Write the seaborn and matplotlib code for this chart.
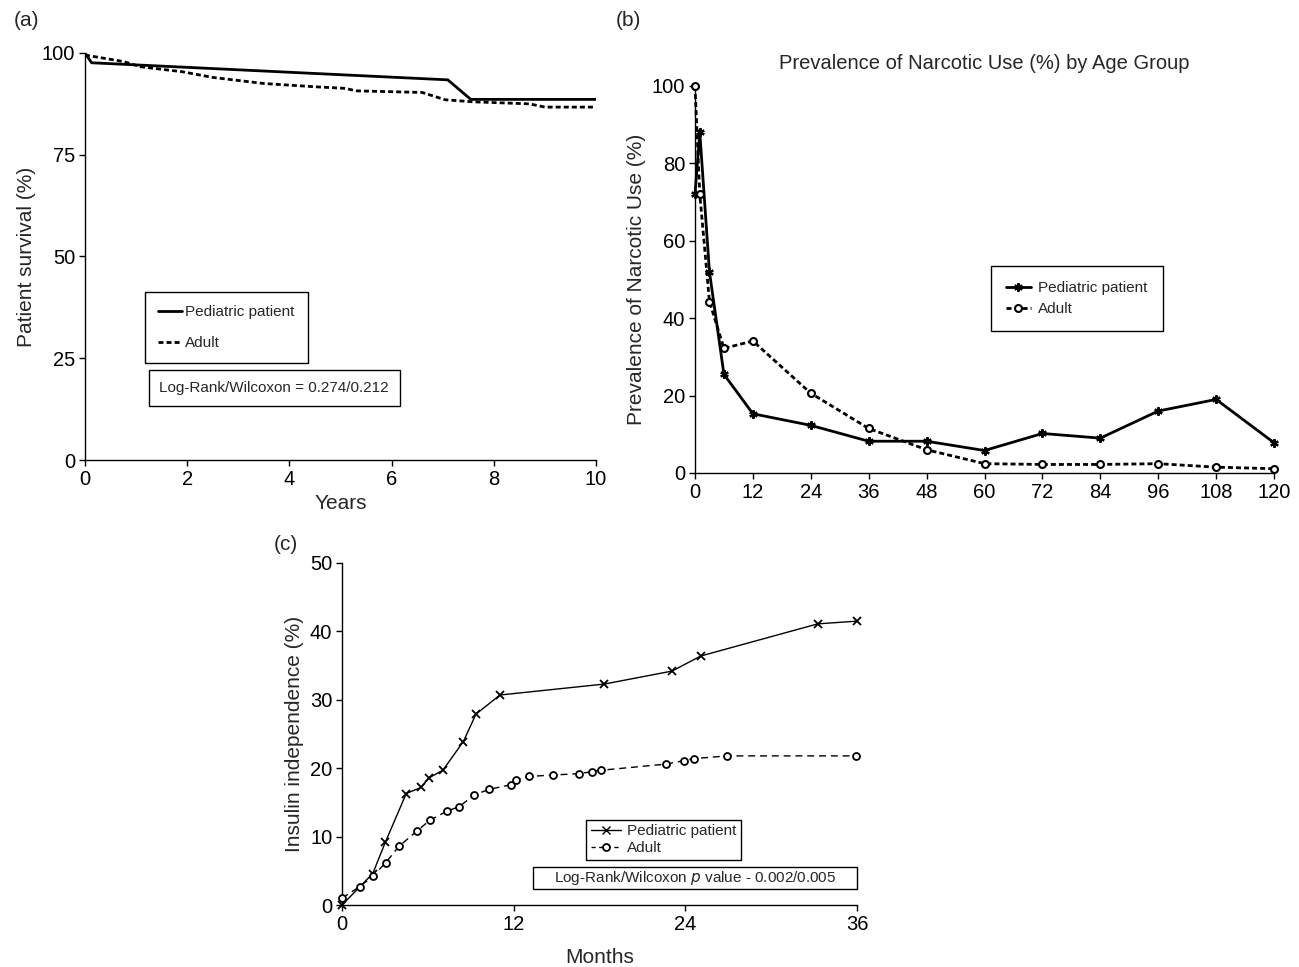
import numpy as np
import pandas as pd
import seaborn as sns
import matplotlib.pyplot as plt
from matplotlib.lines import Line2D
from matplotlib.patches import Rectangle

# panel (a): patient survival
a_years_ped = [0, 0.13, 7.1, 7.55, 10]
a_surv_ped = [100, 97.6, 93.4, 88.6, 88.6]
a_years_adult = [0, 0.75, 1.1, 1.9, 2.5, 3.5, 4.5, 5.1, 5.3, 6.6, 7.05, 7.6, 8.7, 9.0, 10]
a_surv_adult = [99.5, 97.9, 96.6, 95.4, 94.0, 92.5, 91.7, 91.3, 90.7, 90.3, 88.5, 88.0, 87.5, 86.7, 86.7]

# panel (b): narcotic use
b_months = [0, 1, 3, 6, 12, 24, 36, 48, 60, 72, 84, 96, 108, 120]
b_ped = [72, 88, 52, 25.5, 15.3, 12.3, 8.2, 8.2, 5.8, 10.2, 9.0, 16.0, 19.0, 7.8]
b_adult = [100, 72, 44.3, 32.2, 34.1, 20.6, 11.5, 6.0, 2.4, 2.2, 2.2, 2.4, 1.5, 1.1]

# panel (c): insulin independence
c_months_ped = [0, 2.15, 3.03, 4.49, 5.53, 6.08, 7.05, 8.48, 9.36, 11.04, 18.33, 23.07, 25.07, 33.25, 36]
c_ped = [0, 4.6, 9.2, 16.3, 17.2, 18.6, 19.7, 23.9, 27.9, 30.7, 32.3, 34.2, 36.4, 41.1, 41.5]
c_months_adult = [0, 1.24, 2.15, 3.06, 3.99, 5.23, 6.14, 7.32, 8.2, 9.25, 10.27, 11.84, 12.19,
                  13.1, 14.73, 16.54, 17.5, 18.11, 22.65, 23.89, 24.58, 26.92, 35.9]
c_adult = [1.0, 2.7, 4.2, 6.2, 8.6, 10.8, 12.4, 13.7, 14.4, 16.1, 16.9, 17.6, 18.3,
           18.8, 19.0, 19.2, 19.5, 19.7, 20.6, 21.1, 21.4, 21.8, 21.8]

sns.set_style("ticks")
plt.rcParams['font.family'] = ['Liberation Sans', 'DejaVu Sans']
plt.rcParams['xtick.labelsize'] = 14.5
plt.rcParams['ytick.labelsize'] = 14.5
plt.rcParams['axes.labelsize'] = 15
plt.rcParams['axes.edgecolor'] = 'black'
plt.rcParams['xtick.color'] = 'black'
plt.rcParams['ytick.color'] = 'black'
plt.rcParams['axes.linewidth'] = 1.0
plt.rcParams['xtick.major.size'] = 4
plt.rcParams['ytick.major.size'] = 4

fig = plt.figure(figsize=(12.99, 9.67), dpi=100)
ax_a = fig.add_axes([0.0654, 0.5243, 0.3934, 0.4209])
ax_b = fig.add_axes([0.5350, 0.5109, 0.4458, 0.4002])
ax_c = fig.add_axes([0.2633, 0.0641, 0.3965, 0.3537])

dash = (0, (1.8, 1.1))

# ---- (a)
sns.lineplot(x=a_years_ped, y=a_surv_ped, ax=ax_a, color='black', linewidth=2.0)
sns.lineplot(x=a_years_adult, y=a_surv_adult, ax=ax_a, color='black', linewidth=2.0,
             linestyle=dash)
ax_a.set_xlim(0, 10)
ax_a.set_ylim(0, 100)
ax_a.set_xticks([0, 2, 4, 6, 8, 10])
ax_a.set_yticks([0, 25, 50, 75, 100])
ax_a.set_xlabel("Years")
ax_a.set_ylabel("Patient survival (%)")
h_a = [Line2D([], [], color='black', lw=2.0),
       Line2D([], [], color='black', lw=2.0, linestyle=dash)]
leg = ax_a.legend(h_a, ["Pediatric patient", "Adult"], loc='upper left',
                  bbox_to_anchor=(0.117, 0.413), borderaxespad=0, fontsize=11,
                  fancybox=False, edgecolor='black', handlelength=1.6,
                  handletextpad=0.2, labelspacing=1.15, borderpad=0.85, framealpha=1)
leg.get_frame().set_linewidth(1.0)
ax_a.text(0.370, 0.177, "Log-Rank/Wilcoxon = 0.274/0.212", transform=ax_a.transAxes,
          ha='center', va='center', fontsize=11, bbox=dict(boxstyle='square,pad=0.7',
          facecolor='white', edgecolor='black', linewidth=1.0))

# ---- (b)
star = (6, 2, 0)
sns.lineplot(x=b_months, y=b_ped, ax=ax_b, color='black', linewidth=2.0,
             marker=star, markersize=6, markeredgecolor='black', markeredgewidth=1.6,
             clip_on=False, zorder=3)
sns.lineplot(x=b_months, y=b_adult, ax=ax_b, color='black', linewidth=2.0,
             linestyle=dash, marker='o', markersize=5,
             markerfacecolor='white', markeredgecolor='black', markeredgewidth=1.5,
             clip_on=False, zorder=4)
ax_b.set_xlim(0, 120)
ax_b.set_ylim(0, 100)
ax_b.set_xticks(range(0, 121, 12))
ax_b.set_yticks(range(0, 101, 20))
ax_b.set_xlabel("")
ax_b.set_ylabel("Prevalence of Narcotic Use (%)")
ax_b.set_title("Prevalence of Narcotic Use (%) by Age Group", fontsize=14.5, pad=12)
h_b = [Line2D([], [], color='black', lw=2.0, marker=star, markersize=6,
              markeredgewidth=1.6),
       Line2D([], [], color='black', lw=2.0, linestyle=dash, marker='o',
              markersize=5, markerfacecolor='white', markeredgewidth=1.5)]
leg = ax_b.legend(h_b, ["Pediatric patient", "Adult"], loc='upper left',
                  bbox_to_anchor=(0.511, 0.535), borderaxespad=0, fontsize=11,
                  fancybox=False, edgecolor='black', handlelength=1.6,
                  handletextpad=0.5, labelspacing=0.45, borderpad=1.0, framealpha=1)
leg.get_frame().set_linewidth(1.0)

# ---- (c)
sns.lineplot(x=c_months_ped, y=c_ped, ax=ax_c, color='black', linewidth=1.0,
             marker='x', markersize=6, markeredgecolor='black', markeredgewidth=1.3,
             clip_on=False, zorder=3)
sns.lineplot(x=c_months_adult, y=c_adult, ax=ax_c, color='black', linewidth=1.0,
             linestyle=(0, (5, 3.5)), marker='o', markersize=5,
             markerfacecolor='white', markeredgecolor='black', markeredgewidth=1.3,
             clip_on=False, zorder=4)
ax_c.set_xlim(0, 36)
ax_c.set_ylim(0, 50)
ax_c.set_xticks([0, 12, 24, 36])
ax_c.set_yticks(range(0, 51, 10))
ax_c.set_xlabel("Months", labelpad=10)
ax_c.set_ylabel("Insulin independence (%)")
h_c = [Line2D([], [], color='black', lw=1.0, marker='x', markersize=6, markeredgewidth=1.0),
       Line2D([], [], color='black', lw=1.0, linestyle=(0, (3, 2.5)), marker='o',
              markersize=5, markerfacecolor='white', markeredgewidth=1.3)]
leg = ax_c.legend(h_c, ["Pediatric patient", "Adult"], loc='upper left',
                  bbox_to_anchor=(0.474, 0.249), borderaxespad=0, fontsize=11,
                  fancybox=False, edgecolor='black', handlelength=2.0,
                  handletextpad=0.4, labelspacing=0.2, borderpad=0.3, framealpha=1)
leg.get_frame().set_linewidth(1.0)
ax_c.add_patch(Rectangle((0.371, 0.047), 0.629, 0.064, transform=ax_c.transAxes,
                         facecolor='white', edgecolor='black', linewidth=1.0,
                         clip_on=False, zorder=5))
ax_c.text(0.685, 0.079, "Log-Rank/Wilcoxon $\\it{p}$ value - 0.002/0.005",
          transform=ax_c.transAxes, ha='center', va='center', fontsize=11, zorder=6)

for ax in (ax_a, ax_b, ax_c):
    sns.despine(ax=ax)
    ax.tick_params(width=1.0, pad=3)

fig.text(14 / 1299, 1 - 20 / 967, "(a)", fontsize=15, va='center', ha='left')
fig.text(616 / 1299, 1 - 20 / 967, "(b)", fontsize=15, va='center', ha='left')
fig.text(274 / 1299, 1 - 545 / 967, "(c)", fontsize=15, va='center', ha='left')

fig.savefig("out.png", dpi=100)
